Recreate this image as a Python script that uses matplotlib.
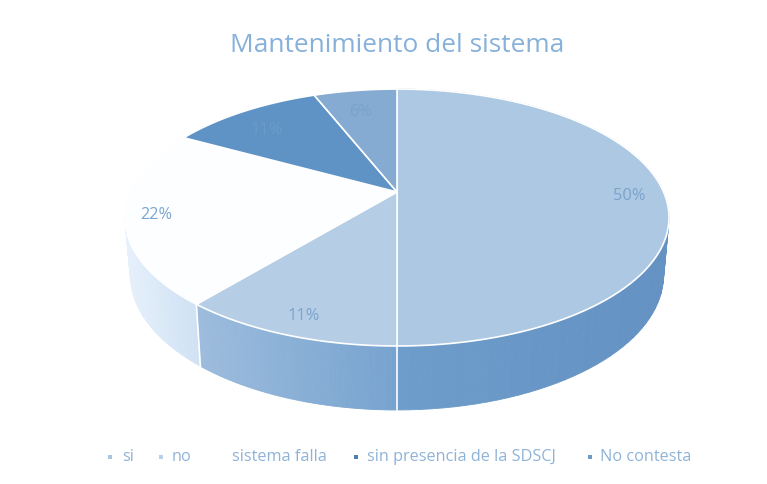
import numpy as np
import matplotlib
matplotlib.use('Agg')
import matplotlib.pyplot as plt
from matplotlib.colors import to_rgb

title = 'Mantenimiento del sistema'
categories = ['si', 'no', 'sistema falla', 'sin presencia de la SDSCJ', 'No contesta']
values = [50, 11, 22, 11, 6]
labels = ['50%', '11%', '22%', '11%', '6%']

top_colors = ['#adc8e3', '#b5cee6', '#fdfeff', '#6093c5', '#86abd2']
side_left = ['#6e9dcb', '#9dbcdd', '#e6f0fb', '#6093c5', '#86abd2']
side_right = ['#6392c3', '#76a3cf', '#cfe1f3', '#6093c5', '#86abd2']
legend_colors = ['#a9c4e0', '#b9cfe6', '#ffffff', '#4f7fb0', '#6f9bc8']
label_colors = ['#7ba3cd', '#7ba3cd', '#7ba6d0', '#6c9bca', '#79a2cb']
label_pos = [(629, 196), (304, 316), (156, 215), (267, 130), (361, 112)]
legend_x = [(110, 122), (161, 172), (None, 232), (356, 367), (590, 600)]

# apex of the pie and the perspective of the top disc, in pixels
cx, cy = 397, 193
a, b, k = 123.4, 266.6, -0.1986
depth, shrink_x, stretch_y = 64, 0.98, 0.05

plt.rcParams['font.family'] = ['Open Sans', 'DejaVu Sans']


def top_xy(deg):
    t = np.radians(deg)
    X, Y = np.sin(t), -np.cos(t)
    d = 1 + k * Y
    return cx + b * X / d, cy + a * Y / d


def low_xy(deg):
    x, y = top_xy(deg)
    return cx + (x - cx) * shrink_x, y + depth + (y - 347) * stretch_y


fig = plt.figure(figsize=(7.67, 4.85), dpi=100)
ax = fig.add_axes([0, 0, 1, 1])
ax.set_xlim(0, 767)
ax.set_ylim(485, 0)
ax.axis('off')

edges = np.cumsum([0] + values) / sum(values) * 360

# side wall, only the slices that face the viewer
for i in range(3):
    start, stop = edges[i], edges[i + 1]
    angs = np.linspace(start, stop, 90)
    xs = top_xy(angs)[0]
    lo, hi = xs.min(), xs.max()
    c0, c1 = np.array(to_rgb(side_left[i])), np.array(to_rgb(side_right[i]))
    for s, e in zip(angs[:-1], angs[1:]):
        tx, ty = top_xy(np.array([s, e]))
        lx, ly = low_xy(np.array([e, s]))
        f = ((tx.mean() - lo) / (hi - lo))
        col = c0 + (c1 - c0) * f
        ax.fill(np.r_[tx, lx], np.r_[ty, ly], facecolor=col, edgecolor=col, lw=0.6, zorder=2)

# dividers on the wall
for deg in [edges[0] + 180, edges[2]]:
    tx, ty = top_xy(deg)
    lx, ly = low_xy(deg)
    ax.plot([tx, lx], [ty, ly], color='white', lw=1.2, zorder=3)

# top disc
for i in range(len(values)):
    angs = np.linspace(edges[i], edges[i + 1], 200)
    x, y = top_xy(angs)
    ax.fill(np.r_[cx, x], np.r_[cy, y], facecolor=top_colors[i], edgecolor='white', lw=1.2,
            joinstyle='round', zorder=4)
    ax.text(label_pos[i][0], label_pos[i][1], labels[i], color=label_colors[i], fontsize=11.8,
            ha='center', va='center', zorder=5)

ax.text(397, 45, title, color='#87b1da', fontsize=18.9, ha='center', va='center')

for i in range(len(categories)):
    mx, tx = legend_x[i]
    if mx is not None:
        ax.scatter([mx], [458], marker='s', s=11, color=legend_colors[i], linewidths=0)
    ax.text(tx, 457, categories[i], color='#8fb3d8', fontsize=11.7, ha='left', va='center')

fig.savefig('out.png', dpi=100, facecolor='white')
